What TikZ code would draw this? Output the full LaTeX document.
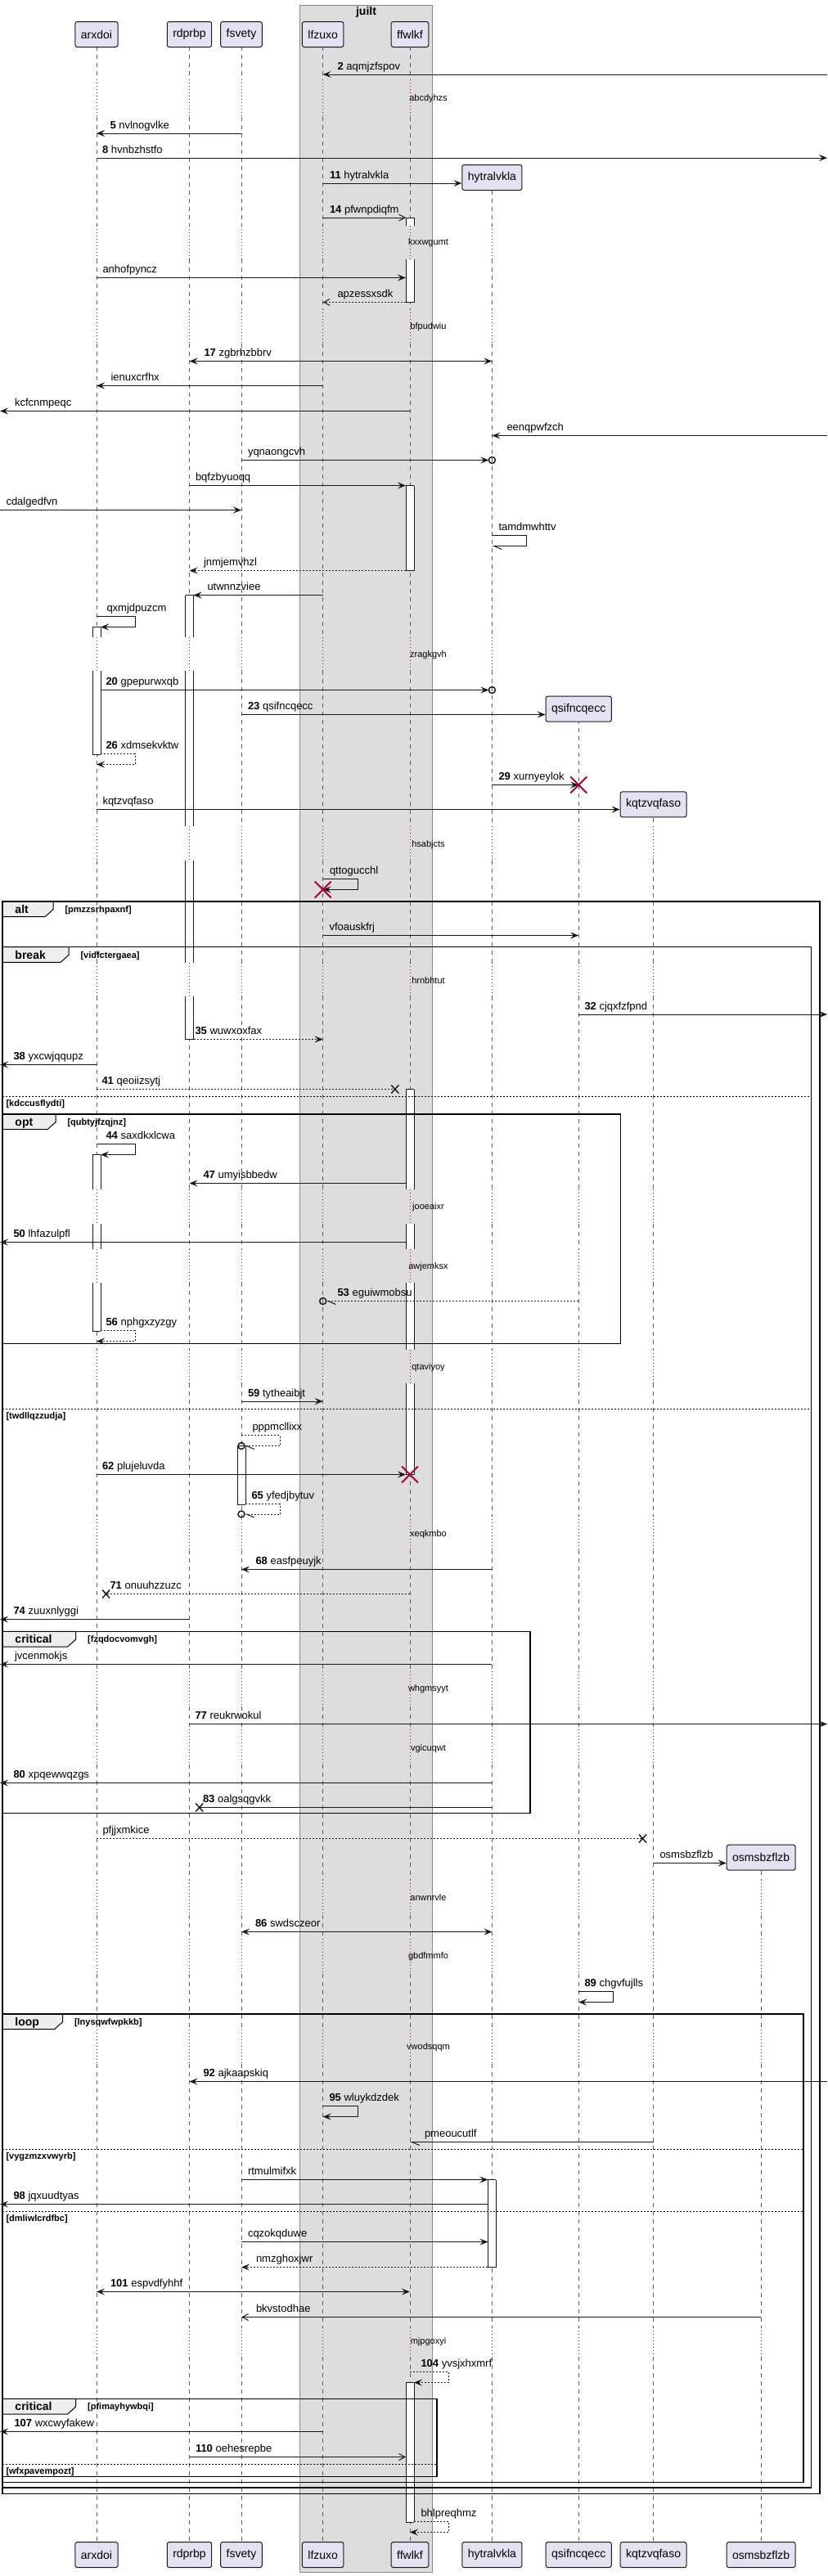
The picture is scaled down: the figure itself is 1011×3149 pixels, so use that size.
\documentclass[tikz,border=0pt]{standalone}
\usepackage{fontspec}
\setmainfont{Liberation Sans}
\usetikzlibrary{arrows.meta,calc,positioning}

\definecolor{seqline}{HTML}{181818}
\definecolor{partfill}{HTML}{E2E2F0}
\definecolor{boxfill}{HTML}{DDDDDD}
\definecolor{boxborder}{HTML}{888888}
\definecolor{delayred}{HTML}{A80036}
\definecolor{tabfill}{HTML}{EEEEEE}

\tikzset{every picture/.style={line width=0.75pt}}
\tikzset{
  part/.style={draw=seqline, fill=partfill, rounded corners=1.9pt, minimum height=23.25pt, inner xsep=5.25pt, inner ysep=0pt, font=\fontsize{10.5pt}{12pt}\selectfont},
  lifeline/.style={seqline!70, line width=0.5pt, dash pattern=on 3.75pt off 3.75pt},
  delayline/.style={delayred, line width=0.75pt, dash pattern=on 0.75pt off 2.25pt},
  actline/.style={seqline, line width=0.75pt},
  msg/.style={seqline, line width=0.75pt, -{Stealth[length=7.5pt,width=6pt,inset=3pt]}},
  bimsg/.style={msg, {Stealth[length=7.5pt,width=6pt,inset=3pt]}-{Stealth[length=7.5pt,width=6pt,inset=3pt]}},
  dashedmsg/.style={dash pattern=on 1.5pt off 1.5pt},
  openhead/.style={-{Straight Barb[length=5.6pt,width=6pt]}},
  halfhead/.style={-{Straight Barb[left,length=7pt,width=6pt]}},
  circend/.style={draw=seqline, line width=1.1pt},
  lbl/.style={anchor=base west, inner sep=0pt, font=\fontsize{9.75pt}{11pt}\selectfont},
  delaytxt/.style={inner sep=0pt, font=\fontsize{8.25pt}{10pt}\selectfont},
  frameline/.style={black, line width=1.1pt},
  tabshape/.style={draw=black, line width=0.75pt, fill=tabfill},
  elseline/.style={black, line width=0.75pt, dash pattern=on 1.5pt off 1.5pt},
  kwtxt/.style={anchor=base west, inner sep=0pt, font=\bfseries\fontsize{10.5pt}{12pt}\selectfont},
  guardtxt/.style={anchor=base west, inner sep=0pt, font=\bfseries\fontsize{8.25pt}{10pt}\selectfont},
  killmark/.pic={\draw[delayred, line width=1.5pt] (-10,-10) -- (10,10) (-10,10) -- (10,-10);},
  lostmark/.pic={\draw[seqline, line width=1.1pt] (-4.5,-5) -- (4.5,5) (-4.5,5) -- (4.5,-5);}
}

\begin{document}
\begin{tikzpicture}[x=0.75pt,y=0.75pt,yscale=-1,xscale=1]
\useasboundingbox (0,0) rectangle (1011,3149);

% Box juilt
\draw[draw=boxborder, fill=boxfill] (366.8,6) rectangle (528.2,3144.3);
\node[font=\bfseries\fontsize{10.5pt}{12pt}\selectfont] (juilt) at (447.5,15) {juilt};

% Participants
\node[part] (arxdoi) at (118,42) {arxdoi};
\node[part] (rdprbp) at (231.5,42) {rdprbp};
\node[part] (fsvety) at (295,42) {fsvety};
\node[part] (lfzuxo) at (394.7,42) {lfzuxo};
\node[part] (ffwlkf) at (501,42) {ffwlkf};
\node[part] (hytralvkla) at (601.4,217) {hytralvkla};
\node[part] (qsifncqecc) at (707.2,866.7) {qsifncqecc};
\node[part] (kqtzvqfaso) at (798.6,983.3) {kqtzvqfaso};
\node[part] (osmsbzflzb) at (930.2,2270.7) {osmsbzflzb};
\coordinate (lft) at (0,0);
\coordinate (rgt) at (1011,0);

% Lifelines, dotted in the delays
\foreach \p in {arxdoi,rdprbp,fsvety,lfzuxo,ffwlkf,hytralvkla,qsifncqecc,kqtzvqfaso,osmsbzflzb}{
  \begin{scope}
    \clip ($(\p.south)+(-6,0)$) rectangle ($(\p |- 0,3107.5)+(6,0)$);
    \foreach \a/\b in {57/97,143/276,317/378,420/779,820/1010,1052/1177,1218/1454,1496/1527,1568/1650,1691/1853,1895/2043,2086/2114,2157/2298,2341/2370,2413/2481,2523/2845,2881/3108}
      \draw[lifeline] (\p |- 0,\a) -- (\p |- 0,\b);
    \foreach \a/\b in {97/143,276/317,378/420,779/820,1010/1052,1177/1218,1454/1496,1527/1568,1650/1691,1853/1895,2043/2086,2114/2157,2298/2341,2370/2413,2481/2523,2845/2881}
      \draw[delayline] (\p |- 0,\a) -- (\p |- 0,\b);
  \end{scope}
  \node[part] (\p-bot) at (\p |- 0,3123) {\p};
}

% Delay texts
\node[delaytxt] (dly-abcdyhzs) at (523.5,121) {abcdyhzs};
\node[delaytxt] (dly-kxxwgumt) at (523.5,296.5) {kxxwgumt};
\node[delaytxt] (dly-bfpudwiu) at (523.5,399.5) {bfpudwiu};
\node[delaytxt] (dly-zragkgvh) at (523.5,800.5) {zragkgvh};
\node[delaytxt] (dly-hsabjcts) at (523.5,1032.5) {hsabjcts};
\node[delaytxt] (dly-hrnbhtut) at (523.5,1198.5) {hrnbhtut};
\node[delaytxt] (dly-jooeaixr) at (523.5,1476) {jooeaixr};
\node[delaytxt] (dly-awjemksx) at (523.5,1549) {awjemksx};
\node[delaytxt] (dly-qtaviyoy) at (523.5,1672) {qtaviyoy};
\node[delaytxt] (dly-xeqkmbo) at (523.5,1876) {xeqkmbo};
\node[delaytxt] (dly-whgmsyyt) at (523.5,2065) {whgmsyyt};
\node[delaytxt] (dly-vgicuqwt) at (523.5,2138) {vgicuqwt};
\node[delaytxt] (dly-anwnrvle) at (523.5,2319.5) {anwnrvle};
\node[delaytxt] (dly-gbdfmmfo) at (523.5,2391.5) {gbdfmmfo};
\node[delaytxt] (dly-vwodsqqm) at (523.5,2502.5) {vwodsqqm};
\node[delaytxt] (dly-mjpgoxyi) at (523.5,2863) {mjpgoxyi};

% Activations (cut at the delays)
\foreach \p/\a/\b in {ffwlkf/266/276, ffwlkf/317/369.5, ffwlkf/593.5/697.5, rdprbp/727.5/779, rdprbp/820/1010, rdprbp/1052/1177, rdprbp/1218/1270.5, arxdoi/766.5/779, arxdoi/820/922, ffwlkf/1331.5/1454, ffwlkf/1496/1527, ffwlkf/1568/1650, ffwlkf/1691/1802.5, arxdoi/1411.5/1454, arxdoi/1496/1527, arxdoi/1568/1627, fsvety/1767.5/1839, hytralvkla/2664.5/2771.5, ffwlkf/2912.5/3083}{
  \fill[white] ($(\p |- 0,\a)+(-5,0)$) rectangle ($(\p |- 0,\b)+(5,0)$);
  \draw[actline] ($(\p |- 0,\a)+(-5,0)$) -- ($(\p |- 0,\b)+(-5,0)$) ($(\p |- 0,\a)+(5,0)$) -- ($(\p |- 0,\b)+(5,0)$);
}
\foreach \p/\y in {ffwlkf/266, ffwlkf/369.5, ffwlkf/593.5, ffwlkf/697.5, rdprbp/727.5, rdprbp/1270.5, arxdoi/766.5, arxdoi/922, ffwlkf/1331.5, ffwlkf/1802.5, arxdoi/1411.5, arxdoi/1627, fsvety/1767.5, fsvety/1839, hytralvkla/2664.5, hytralvkla/2771.5, ffwlkf/2912.5, ffwlkf/3083}
  \draw[actline] ($(\p |- 0,\y)+(-5,0)$) -- ($(\p |- 0,\y)+(5,0)$);

% Frames
\foreach \t/\b/\r/\w/\k/\g in {1102/3048.3/1002/65/alt/pmzzsrhpaxnf, 1157.7/3041/991.6/84/break/vidfctergaea, 1362/1642.3/758.3/68/opt/qubtyjfzqjnz, 1994.3/2216.7/648/92.7/critical/fzqdocvomvgh, 2462/3034.3/981.8/76.5/loop/lnysqwfwpkkb, 2932.3/3027.3/534/92.7/critical/pfimayhywbqi}{
  \draw[tabshape] (3,\t) -- (\w,\t) -- (\w,\t+9.7) -- (\w-10,\t+18.7) -- (3,\t+18.7) -- cycle;
  \draw[frameline] (3,\t) rectangle (\r,\b);
  \node[kwtxt] (kw-\g) at (18,\t+14.5) {\k};
  \node[guardtxt] (grd-\g) at (\w+14,\t+13.5) {[\g]};
}
\foreach \y/\r/\g in {1340.3/991.6/kdccusflydti, 1722.3/991.6/twdllqzzudja, 2627/981.8/vygzmzxvwyrb, 2703/981.8/dmliwlcrdfbc, 3012.3/534/wfxpavempozt}{
  \draw[elseline] (3,\y) -- (\r,\y);
  \node[guardtxt] (grd-\g) at (7,\y+12) {[\g]};
}

% Messages
\draw[msg] (rgt |- 0,91) -- (lfzuxo |- 0,91);
\node[lbl] (l2) at (412,85) {\textbf{2} aqmjzfspov};
\draw[msg] (fsvety |- 0,163) -- (arxdoi |- 0,163);
\node[lbl] (l5) at (134,157) {\textbf{5} nvlnogvlke};
\draw[msg] (arxdoi |- 0,193) -- (rgt |- 0,193);
\node[lbl] (l8) at (124.5,187) {\textbf{8} hvnbzhstfo};
\draw[msg] (lfzuxo |- 0,224) -- (hytralvkla.west |- 0,224);
\node[lbl] (l11) at (402.5,218) {\textbf{11} hytralvkla};
\draw[msg,openhead] (lfzuxo |- 0,266) -- ($(ffwlkf |- 0,266)+(-5,0)$);
\node[lbl] (l14) at (402.5,260) {\textbf{14} pfwnpdiqfm};
\draw[msg] (arxdoi |- 0,339.5) -- ($(ffwlkf |- 0,339.5)+(-5,0)$);
\node[lbl] (l-anhofpyncz) at (125,333.5) {anhofpyncz};
\draw[msg,dashedmsg,openhead] ($(ffwlkf |- 0,369.5)+(-5,0)$) -- (lfzuxo |- 0,369.5);
\node[lbl] (l-apzessxsdk) at (412,363.5) {apzessxsdk};
\draw[bimsg] (rdprbp |- 0,441.5) -- (hytralvkla |- 0,441.5);
\node[lbl] (l17) at (249,435.5) {\textbf{17} zgbrhzbbrv};
\draw[msg] (lfzuxo |- 0,471.5) -- (arxdoi |- 0,471.5);
\node[lbl] (l-ienuxcrfhx) at (135,465.5) {ienuxcrfhx};
\draw[msg] (ffwlkf |- 0,502.5) -- (lft |- 0,502.5);
\node[lbl] (l-kcfcnmpeqc) at (17.5,496.5) {kcfcnmpeqc};
\draw[msg] (rgt |- 0,532.5) -- (hytralvkla |- 0,532.5);
\node[lbl] (l-eenqpwfzch) at (619,526.5) {eenqpwfzch};
\draw[msg] (fsvety |- 0,562.5) -- ($(hytralvkla |- 0,562.5)+(-4,0)$);
\draw[circend] (hytralvkla |- 0,562.5) circle [radius=4];
\node[lbl] (l-yqnaongcvh) at (302.5,556.5) {yqnaongcvh};
\draw[msg] (rdprbp |- 0,593.5) -- ($(ffwlkf |- 0,593.5)+(-5,0)$);
\node[lbl] (l-bqfzbyuoqq) at (238.5,587.5) {bqfzbyuoqq};
\draw[msg] (lft |- 0,623.5) -- (fsvety |- 0,623.5);
\node[lbl] (l-cdalgedfvn) at (7,617.5) {cdalgedfvn};
\draw[msg,halfhead] (hytralvkla |- 0,654.5) -- (643.5,654.5) -- (643.5,667.5) -- (hytralvkla |- 0,667.5);
\node[lbl] (l-tamdmwhttv) at (609,648.5) {tamdmwhttv};
\draw[msg,dashedmsg] ($(ffwlkf |- 0,697.5)+(-5,0)$) -- (rdprbp |- 0,697.5);
\node[lbl] (l-jnmjemvhzl) at (248.5,691.5) {jnmjemvhzl};
\draw[msg] (lfzuxo |- 0,727.5) -- ($(rdprbp |- 0,727.5)+(5,0)$);
\node[lbl] (l-utwnnzviee) at (253,721.5) {utwnnzviee};
\draw[msg] (arxdoi |- 0,753.5) -- (165,753.5) -- (165,766.5) -- ($(arxdoi |- 0,766.5)+(5,0)$);
\node[lbl] (l-qxmjdpuzcm) at (130,747.5) {qxmjdpuzcm};
\draw[msg] ($(arxdoi |- 0,843.5)+(5,0)$) -- ($(hytralvkla |- 0,843.5)+(-4,0)$);
\draw[circend] (hytralvkla |- 0,843.5) circle [radius=4];
\node[lbl] (l20) at (129,837.5) {\textbf{20} gpepurwxqb};
\draw[msg] (fsvety |- 0,873.5) -- (qsifncqecc.west |- 0,873.5);
\node[lbl] (l23) at (302.5,867.5) {\textbf{23} qsifncqecc};
\draw[msg,dashedmsg] ($(arxdoi |- 0,921.5)+(5,0)$) -- (165,921.5) -- (165,934.5) -- (arxdoi |- 0,934.5);
\node[lbl] (l26) at (129,915.5) {\textbf{26} xdmsekvktw};
\draw[msg] (hytralvkla |- 0,959.5) -- (qsifncqecc |- 0,959.5);
\pic at (qsifncqecc |- 0,959.5) {killmark};
\node[lbl] (l29) at (609,953.5) {\textbf{29} xurnyeylok};
\draw[msg] (arxdoi |- 0,989.5) -- (kqtzvqfaso.west |- 0,989.5);
\node[lbl] (l-kqtzvqfaso) at (125,983.5) {kqtzvqfaso};
\draw[msg] (lfzuxo |- 0,1074.5) -- (437,1074.5) -- (437,1087.5) -- (lfzuxo |- 0,1087.5);
\pic at (lfzuxo |- 0,1087.5) {killmark};
\node[lbl] (l-qttogucchl) at (402.5,1068.5) {qttogucchl};
\draw[msg] (lfzuxo |- 0,1143.5) -- (qsifncqecc |- 0,1143.5);
\node[lbl] (l-vfoauskfrj) at (402,1137.5) {vfoauskfrj};
\draw[msg] (qsifncqecc |- 0,1240) -- (rgt |- 0,1240);
\node[lbl] (l32) at (714,1234) {\textbf{32} cjqxfzfpnd};
\draw[msg,dashedmsg] ($(rdprbp |- 0,1270.5)+(5,0)$) -- (lfzuxo |- 0,1270.5);
\node[lbl] (l35) at (238,1264.5) {\textbf{35} wuwxoxfax};
\draw[msg] (arxdoi |- 0,1301.5) -- (lft |- 0,1301.5);
\node[lbl] (l38) at (16,1295.5) {\textbf{38} yxcwjqqupz};
\coordinate (lost41) at (482.8,1331.5);
\draw[seqline,dashedmsg] (arxdoi |- 0,1331.5) -- (lost41);
\pic at (lost41) {lostmark};
\node[lbl] (l41) at (124,1325.5) {\textbf{41} qeoiizsytj};
\draw[msg] (arxdoi |- 0,1398.5) -- (165,1398.5) -- (165,1411.5) -- ($(arxdoi |- 0,1411.5)+(5,0)$);
\node[lbl] (l44) at (129,1392.5) {\textbf{44} saxdkxlcwa};
\draw[msg] ($(ffwlkf |- 0,1446.5)+(-5,0)$) -- (rdprbp |- 0,1446.5);
\node[lbl] (l47) at (248,1440.5) {\textbf{47} umyisbbedw};
\draw[msg] ($(ffwlkf |- 0,1518.5)+(-5,0)$) -- (lft |- 0,1518.5);
\node[lbl] (l50) at (16,1512.5) {\textbf{50} lhfazulpfl};
\draw[msg,dashedmsg,halfhead] (qsifncqecc |- 0,1590.5) -- ($(lfzuxo |- 0,1590.5)+(4,0)$);
\draw[circend] (lfzuxo |- 0,1590.5) circle [radius=4];
\node[lbl] (l53) at (412,1584.5) {\textbf{53} eguiwmobsu};
\draw[msg,dashedmsg] ($(arxdoi |- 0,1626.5)+(5,0)$) -- (165,1626.5) -- (165,1639.5) -- (arxdoi |- 0,1639.5);
\node[lbl] (l56) at (129,1620.5) {\textbf{56} nphgxzyzgy};
\draw[msg] (fsvety |- 0,1713) -- (lfzuxo |- 0,1713);
\node[lbl] (l59) at (302.5,1707) {\textbf{59} tytheaibjt};
\draw[msg,dashedmsg,halfhead] (fsvety |- 0,1754.5) -- (342,1754.5) -- (342,1767.5) -- ($(fsvety |- 0,1767.5)+(4,0)$);
\draw[circend] (fsvety |- 0,1767.5) circle [radius=4];
\node[lbl] (l-pppmcllixx) at (308,1748.5) {pppmcllixx};
\draw[msg] (arxdoi |- 0,1802.5) -- ($(ffwlkf |- 0,1802.5)+(-5,0)$);
\pic at (ffwlkf |- 0,1802.5) {killmark};
\node[lbl] (l62) at (124.5,1796.5) {\textbf{62} plujeluvda};
\draw[msg,dashedmsg,halfhead] ($(fsvety |- 0,1838.5)+(5,0)$) -- (342,1838.5) -- (342,1851) -- ($(fsvety |- 0,1851)+(4,0)$);
\draw[circend] (fsvety |- 0,1851) circle [radius=4];
\node[lbl] (l65) at (307,1832.5) {\textbf{65} yfedjbytuv};
\draw[msg] (hytralvkla |- 0,1918.5) -- (fsvety |- 0,1918.5);
\node[lbl] (l68) at (312,1912.5) {\textbf{68} easfpeuyjk};
\coordinate (lost71) at (129.6,1948.5);
\draw[seqline,dashedmsg] (ffwlkf |- 0,1948.5) -- (lost71);
\pic at (lost71) {lostmark};
\node[lbl] (l71) at (134,1942.5) {\textbf{71} onuuhzzuzc};
\draw[msg] (rdprbp |- 0,1979.5) -- (lft |- 0,1979.5);
\node[lbl] (l74) at (16,1973.5) {\textbf{74} zuuxnlyggi};
\draw[msg] (hytralvkla |- 0,2034.5) -- (lft |- 0,2034.5);
\node[lbl] (l-jvcenmokjs) at (17.5,2028.5) {jvcenmokjs};
\draw[msg] (rdprbp |- 0,2107.5) -- (rgt |- 0,2107.5);
\node[lbl] (l77) at (238,2101.5) {\textbf{77} reukrwokul};
\draw[msg] (hytralvkla |- 0,2179.5) -- (lft |- 0,2179.5);
\node[lbl] (l80) at (16,2173.5) {\textbf{80} xpqewwqzgs};
\coordinate (lost83) at (243.7,2209.5);
\draw[seqline] (hytralvkla |- 0,2209.5) -- (lost83);
\pic at (lost83) {lostmark};
\node[lbl] (l83) at (247.5,2203.5) {\textbf{83} oalgsqgvkk};
\coordinate (lostpf) at (785.5,2247.5);
\draw[seqline,dashedmsg] (arxdoi |- 0,2247.5) -- (lostpf);
\pic at (lostpf) {lostmark};
\node[lbl] (l-pfjjxmkice) at (125,2241.5) {pfjjxmkice};
\draw[msg] (kqtzvqfaso |- 0,2277.5) -- (osmsbzflzb.west |- 0,2277.5);
\node[lbl] (l-osmsbzflzb) at (806,2271.5) {osmsbzflzb};
\draw[bimsg] (fsvety |- 0,2361.5) -- (hytralvkla |- 0,2361.5);
\node[lbl] (l86) at (311.5,2355.5) {\textbf{86} swdsczeor};
\draw[msg] (qsifncqecc |- 0,2434.5) -- (749,2434.5) -- (749,2447.5) -- (qsifncqecc |- 0,2447.5);
\node[lbl] (l89) at (714,2428.5) {\textbf{89} chgvfujlls};
\draw[msg] (rgt |- 0,2544.5) -- (rdprbp |- 0,2544.5);
\node[lbl] (l92) at (248,2538.5) {\textbf{92} ajkaapskiq};
\draw[msg] (lfzuxo |- 0,2574.5) -- (437,2574.5) -- (437,2587.5) -- (lfzuxo |- 0,2587.5);
\node[lbl] (l95) at (402,2568.5) {\textbf{95} wluykdzdek};
\draw[msg,halfhead] (kqtzvqfaso |- 0,2618.5) -- (ffwlkf |- 0,2618.5);
\node[lbl] (l-pmeoucutlf) at (518.5,2612.5) {pmeoucutlf};
\draw[msg] (fsvety |- 0,2664.5) -- ($(hytralvkla |- 0,2664.5)+(-5,0)$);
\node[lbl] (l-rtmulmifxk) at (302.5,2658.5) {rtmulmifxk};
\draw[msg] ($(hytralvkla |- 0,2694.5)+(-5,0)$) -- (lft |- 0,2694.5);
\node[lbl] (l98) at (16,2688.5) {\textbf{98} jqxuudtyas};
\draw[msg] (fsvety |- 0,2740.5) -- ($(hytralvkla |- 0,2740.5)+(-5,0)$);
\node[lbl] (l-cqzokqduwe) at (302.5,2734.5) {cqzokqduwe};
\draw[msg,dashedmsg] ($(hytralvkla |- 0,2771.5)+(-5,0)$) -- (fsvety |- 0,2771.5);
\node[lbl] (l-nmzghoxjwr) at (312.5,2765.5) {nmzghoxjwr};
\draw[bimsg] (arxdoi |- 0,2801.5) -- (ffwlkf |- 0,2801.5);
\node[lbl] (l101) at (134.5,2795.5) {\textbf{101} espvdfyhhf};
\draw[msg,openhead] (osmsbzflzb |- 0,2832.5) -- (fsvety |- 0,2832.5);
\node[lbl] (l-bkvstodhae) at (312.5,2826.5) {bkvstodhae};
\draw[msg,dashedmsg] (ffwlkf |- 0,2899.5) -- (548.3,2899.5) -- (548.3,2912.5) -- ($(ffwlkf |- 0,2912.5)+(5,0)$);
\node[lbl] (l104) at (514,2893.5) {\textbf{104} yvsjxhxmrf};
\draw[msg] (lfzuxo |- 0,2972.5) -- (lft |- 0,2972.5);
\node[lbl] (l107) at (17,2966.5) {\textbf{107} wxcwyfakew};
\draw[msg,openhead] (rdprbp |- 0,3003.5) -- ($(ffwlkf |- 0,3003.5)+(-5,0)$);
\node[lbl] (l110) at (238.5,2997.5) {\textbf{110} oehesrepbe};
\draw[msg,dashedmsg] ($(ffwlkf |- 0,3082.5)+(5,0)$) -- (548.3,3082.5) -- (548.3,3095.5) -- (ffwlkf |- 0,3095.5);
\node[lbl] (l-bhlpreqhmz) at (514,3076.5) {bhlpreqhmz};

\end{tikzpicture}
\end{document}
